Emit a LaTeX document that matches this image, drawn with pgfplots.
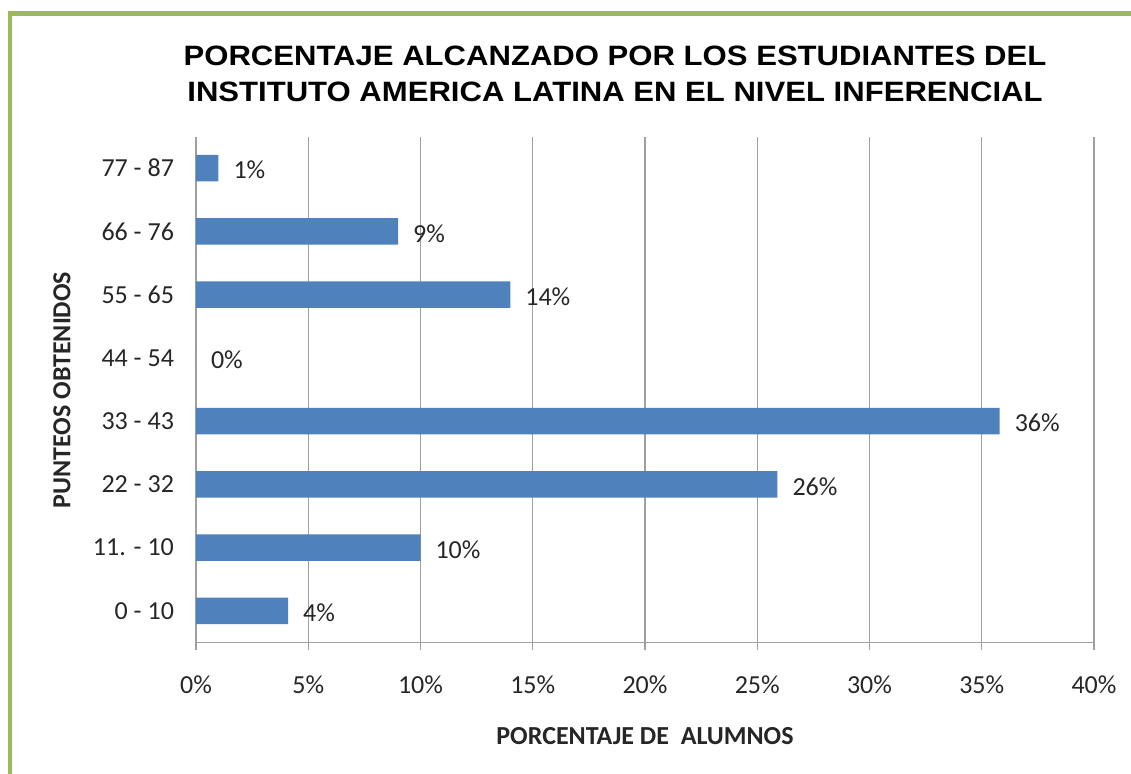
\documentclass[border=0pt]{standalone}
\usepackage{fontspec}
\setmainfont{Carlito}
\newfontfamily\titlefont{Liberation Sans}
\usepackage{pgfplots}
\pgfplotsset{compat=1.18}
\definecolor{barblue}{HTML}{4F81BD}
\definecolor{framegreen}{HTML}{9BBB59}
\definecolor{gridgray}{HTML}{A0A0A0}
\definecolor{txt}{HTML}{262626}
\begin{document}
\begin{tikzpicture}
\useasboundingbox (0pt,0pt) rectangle (565.5pt,387pt);
\draw[framegreen, line width=2.2pt] (5pt,0pt) -- (5pt,380.25pt) -- (565.5pt,380.25pt);
\begin{axis}[
  at={(98pt,65.75pt)}, anchor=south west,
  scale only axis, width=449pt, height=253pt,
  xbar, bar width=13.25pt,
  xmin=0, xmax=40, ymin=-0.5, ymax=7.5,
  enlargelimits=false,
  axis x line*=bottom, axis y line*=left,
  axis line style={gridgray, line width=0.6pt},
  xmajorgrids, grid style={gridgray, line width=0.6pt},
  xtick={0,5,...,40},
  xticklabel={\pgfmathprintnumber{\tick}\%},
  ytick={0,...,7},
  yticklabels={0 - 10, 11. - 10, 22 - 32, 33 - 43, 44 - 54, 55 - 65, 66 - 76, 77 - 87},
  tick align=outside, major tick length=4pt,
  xtick style={gridgray, line width=0.6pt},
  ytick style={draw=none},
  /pgf/number format/assume math mode=true,
  tick label style={font=\fontsize{13}{15}\selectfont, text=txt},
  xticklabel style={yshift=-9pt},
  yticklabel style={xshift=-3.5pt},
  nodes near coords={\pgfplotspointmeta},
  point meta=explicit symbolic,
  nodes near coords style={anchor=west, xshift=4pt, yshift=-1pt, font=\fontsize{13}{15}\selectfont, text=txt},
]
\addplot[fill=barblue, draw=none] coordinates {
  (4.1,0) [4\%]
  (10,1) [10\%]
  (25.9,2) [26\%]
  (35.8,3) [36\%]
  (0,4) [0\%]
  (14,5) [14\%]
  (9,6) [9\%]
  (1,7) [1\%]
};
\end{axis}
\node[font=\titlefont\bfseries\fontsize{14}{18}\selectfont, align=center] at (307.5pt,350pt)
  {\scalebox{1.11}[1]{PORCENTAJE ALCANZADO POR LOS ESTUDIANTES DEL}\\\scalebox{1.11}[1]{INSTITUTO AMERICA LATINA EN EL NIVEL INFERENCIAL}};
\node[rotate=90, font=\bfseries\fontsize{13}{15}\selectfont, text=txt] at (31pt,192pt) {PUNTEOS OBTENIDOS};
\node[font=\bfseries\fontsize{13}{15}\selectfont, text=txt] at (322.5pt,19pt) {PORCENTAJE DE\ \ ALUMNOS};
\end{tikzpicture}
\end{document}
